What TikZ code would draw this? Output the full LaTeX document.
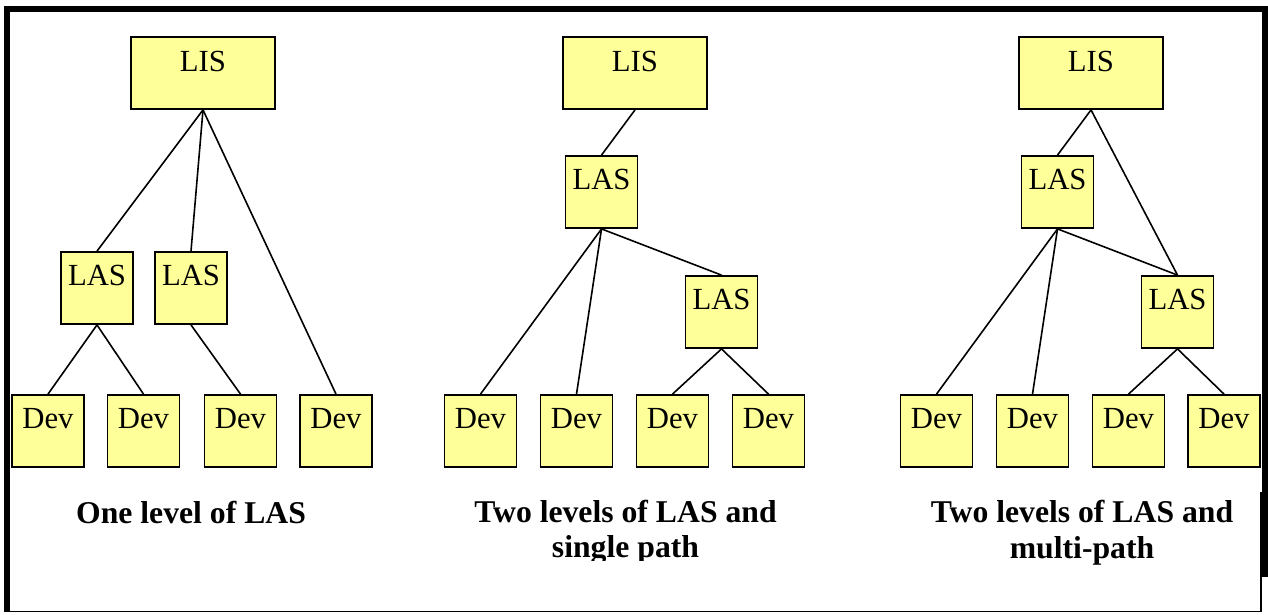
\documentclass[tikz,border=0pt]{standalone}
\usepackage{fontspec}
\setmainfont{Liberation Serif}
\usepackage{tikz}
\definecolor{boxyellow}{HTML}{FFFF99}

\begin{document}
\begin{tikzpicture}[x=1pt, y=-1pt,
  box/.style={draw=black, line width=1.8pt, fill=boxyellow, inner sep=0pt,
    minimum width=72pt, text height=33pt, text depth=39pt,
    font=\fontsize{30.7}{34}\selectfont},
  lisbox/.style={box, minimum width=144pt, text height=34pt, text depth=38pt},
  link/.style={line width=1.6pt},
  caption/.style={font=\fontsize{31.7}{35.5}\selectfont\bfseries,
    align=center, inner sep=0pt, anchor=base}]
\useasboundingbox (0,0) rectangle (1268,614);
% Outer frame
\draw[line width=6pt] (7,612) -- (7,9) -- (1265,9) -- (1265,577); % thick left, top, right
\draw[line width=1.5pt] (7,611.5) -- (1261,611.5) -- (1261,492); % thin bottom edge

% Diagram for one level of LAS
\node[lisbox] (lisA) at (203,73) {LIS};
\node[box] (lasA1) at (97,288) {LAS};
\node[box] (lasA2) at (191,288) {LAS};
\node[box] (devA1) at (48,431) {Dev};
\node[box] (devA2) at (143.5,431) {Dev};
\node[box] (devA3) at (240.5,431) {Dev};
\node[box] (devA4) at (336,431) {Dev};
\draw[link] (lisA.south) -- (lasA1.north);
\draw[link] (lisA.south) -- (lasA2.north);
\draw[link] (lisA.south) -- (devA4.north); % device hanging straight off LIS
\draw[link] (lasA1.south) -- (devA1.north);
\draw[link] (lasA1.south) -- (devA2.north);
\draw[link] (lasA2.south) -- (devA3.north);
\node[caption] (capA) at (191,523) {One level of LAS};

% Diagram for two levels, single path
\node[lisbox] (lisB) at (635,73) {LIS};
\node[box] (lasB1) at (601.5,192) {LAS};
\node[box] (lasB2) at (721.5,312) {LAS};
\node[box] (devB1) at (480.5,431) {Dev};
\node[box] (devB2) at (576.5,431) {Dev};
\node[box] (devB3) at (672.5,431) {Dev};
\node[box] (devB4) at (768.5,431) {Dev};
\draw[link] (lisB.south) -- (lasB1.north);
\draw[link] (lasB1.south) -- (lasB2.north);
\draw[link] (lasB1.south) -- (devB1.north);
\draw[link] (lasB1.south) -- (devB2.north);
\draw[link] (lasB2.south) -- (devB3.north);
\draw[link] (lasB2.south) -- (devB4.north);
\begin{scope}
\clip (0,0) rectangle (1268,560); % caption is cut off at the bottom
\node[caption] (capB) at (625.5,557.5) {Two levels of LAS and\\single path};
\end{scope}

% Diagram for two levels, multi-path
\node[lisbox] (lisC) at (1091,73) {LIS};
\node[box] (lasC1) at (1057.5,192) {LAS};
\node[box] (lasC2) at (1177.5,312) {LAS};
\node[box] (devC1) at (936.5,431) {Dev};
\node[box] (devC2) at (1032.5,431) {Dev};
\node[box] (devC3) at (1128.5,431) {Dev};
\node[box] (devC4) at (1224,431) {Dev};
\draw[link] (lisC.south) -- (lasC1.north);
\draw[link] (lisC.south) -- (lasC2.north); % second path from LIS
\draw[link] (lasC1.south) -- (lasC2.north);
\draw[link] (lasC1.south) -- (devC1.north);
\draw[link] (lasC1.south) -- (devC2.north);
\draw[link] (lasC2.south) -- (devC3.north);
\draw[link] (lasC2.south) -- (devC4.north);
\begin{scope}
\clip (0,0) rectangle (1268,564);
\node[caption] (capC) at (1082,558) {Two levels of LAS and\\multi-path};
\end{scope}
\end{tikzpicture}
\end{document}
